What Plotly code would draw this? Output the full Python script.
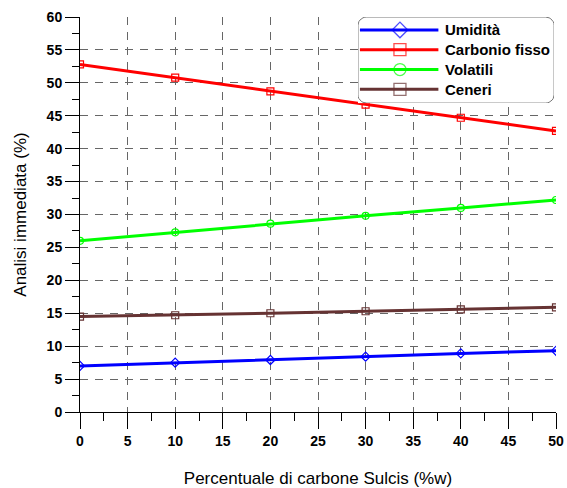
import numpy as np
import plotly.graph_objects as go

# Percentuale di carbone Sulcis (%w)
sulcis = [0, 10, 20, 30, 40, 50]

# Analisi immediata (%)
umidita = [7.0, 7.5, 7.9, 8.4, 8.9, 9.3]
carbonio_fisso = [52.8, 50.8, 48.7, 46.7, 44.7, 42.7]
volatili = [26.0, 27.3, 28.6, 29.8, 31.0, 32.2]
ceneri = [14.5, 14.7, 15.0, 15.3, 15.6, 15.9]

series_names = ["Umidità", "Carbonio fisso", "Volatili", "Ceneri"]
series_values = [umidita, carbonio_fisso, volatili, ceneri]
series_colors = ["#0000ff", "#ff0000", "#00ff00", "#663333"]
series_symbols = ["diamond-open", "square-open", "circle-open", "square-open"]

font_family = "Liberation Sans, Arial, sans-serif"

fig = go.Figure()
for name, values, color, symbol in zip(series_names, series_values, series_colors, series_symbols):
    fig.add_trace(go.Scatter(
        x=sulcis, y=values, name=name, mode="lines+markers", showlegend=False,
        line=dict(color=color, width=3),
        marker=dict(symbol=symbol, size=7, color=color, line=dict(width=1.2, color=color)),
    ))

axis_common = dict(
    showgrid=True, gridcolor="#666666", griddash="8px,7px", gridwidth=1,
    showline=True, linecolor="black", linewidth=1, mirror=False,
    zeroline=False, ticks="outside", tickcolor="black", tickwidth=1,
    tickfont=dict(family=font_family, size=14, color="black"),
    tickprefix="<b>", ticksuffix="</b>", automargin=False,
)

fig.update_xaxes(
    range=[0, 50], dtick=5, tick0=0, ticklen=16,
    minor=dict(dtick=2.5, ticks="outside", ticklen=8, tickcolor="black", showgrid=False),
    title=dict(text="Percentuale di carbone Sulcis (%w)",
               font=dict(family=font_family, size=17, color="black"), standoff=32),
    **axis_common,
)
fig.update_yaxes(
    range=[0, 60], dtick=5, tick0=0, ticklen=14,
    minor=dict(dtick=2.5, ticks="outside", ticklen=7, tickcolor="black", showgrid=False),
    title=dict(text="Analisi immediata (%)",
               font=dict(family=font_family, size=17, color="black"), standoff=15),
    **axis_common,
)

# legend panel: its own small axes in the upper-right corner of the plot
leg_dom_x = [0.584, 0.996]
leg_dom_y = [0.782, 1.0]

# white rounded box (x in [0, 1], y in [0, 4] on the legend axes)
rx, ry = 0.045, 0.38
t = np.linspace(0, np.pi / 2, 8)
box_x, box_y = [], []
for cx, cy, a0 in [(1 - rx, ry, -np.pi / 2), (1 - rx, 4 - ry, 0.0),
                   (rx, 4 - ry, np.pi / 2), (rx, ry, np.pi)]:
    ang = a0 + t
    box_x.extend(cx + rx * np.cos(ang))
    box_y.extend(cy + ry * np.sin(ang))
box_x.append(box_x[0])
box_y.append(box_y[0])
fig.add_trace(go.Scatter(
    x=box_x, y=box_y, mode="lines", fill="toself", fillcolor="white",
    line=dict(color="#777777", width=1), xaxis="x2", yaxis="y2",
    showlegend=False, hoverinfo="skip",
))

for i, (name, color, symbol) in enumerate(zip(series_names, series_colors, series_symbols)):
    row = 0.6 + 0.92 * i
    fig.add_trace(go.Scatter(
        x=[0.01, 0.214, 0.41], y=[row, row, row], mode="lines+markers",
        xaxis="x2", yaxis="y2", showlegend=False, hoverinfo="skip",
        line=dict(color=color, width=3),
        marker=dict(symbol=symbol, size=[0, 12, 0], color=color,
                    line=dict(width=1.3, color=color)),
    ))
    fig.add_annotation(
        x=0.435, y=row, xref="x2", yref="y2", xanchor="left", yanchor="middle",
        text=f"<b>{name}</b>", showarrow=False,
        font=dict(family=font_family, size=15, color="black"),
    )

fig.update_layout(
    width=567, height=488,
    margin=dict(l=80, r=11, t=17, b=76),
    paper_bgcolor="white", plot_bgcolor="white",
    font=dict(family=font_family, color="black"),
    showlegend=False,
    xaxis2=dict(domain=leg_dom_x, range=[0, 1], anchor="y2", visible=False, fixedrange=True),
    yaxis2=dict(domain=leg_dom_y, range=[4, 0], anchor="x2", visible=False, fixedrange=True),
)

fig.write_html("out.html")
